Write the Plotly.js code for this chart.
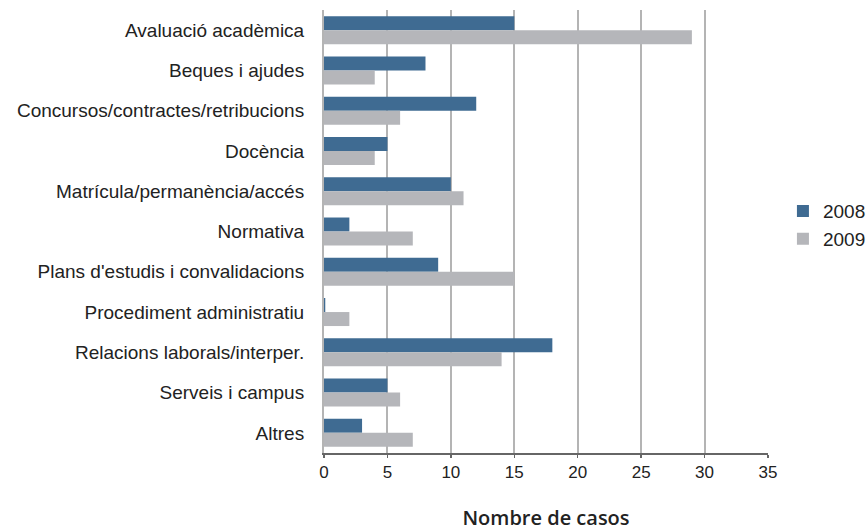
<!DOCTYPE html>
<html>
<head>
<meta charset="utf-8">
<script src="https://cdn.plot.ly/plotly-3.0.1.min.js"></script>
<style>html,body{margin:0;padding:0;background:#fff;}#chart{width:868px;height:531px;}</style>
</head>
<body>
<div id="chart"></div>
<script>
const categories = [
  "Avaluació acadèmica",
  "Beques i ajudes",
  "Concursos/contractes/retribucions",
  "Docència",
  "Matrícula/permanència/accés",
  "Normativa",
  "Plans d'estudis i convalidacions",
  "Procediment administratiu",
  "Relacions laborals/interper.",
  "Serveis i campus",
  "Altres"
];
const values2008 = [15, 8, 12, 5, 10, 2, 9, 0.1, 18, 5, 3];
const values2009 = [29, 4, 6, 4, 11, 7, 15, 2, 14, 6, 7];
const xTicks = [0, 5, 10, 15, 20, 25, 30, 35];

const traces = [
  {type: 'bar', orientation: 'h', name: '2008', y: categories, x: values2008,
   marker: {color: '#3f6b92'}},
  {type: 'bar', orientation: 'h', name: '2009', y: categories, x: values2009,
   marker: {color: '#b5b6ba'}}
];

const layout = {
  width: 868, height: 531,
  margin: {l: 324, r: 100, t: 10, b: 78},
  paper_bgcolor: '#fff', plot_bgcolor: '#fff',
  barmode: 'group', bargap: 0.305, bargroupgap: 0,
  font: {family: 'Liberation Sans, Arial, sans-serif', size: 19, color: '#222'},
  xaxis: {
    range: [0, 35], tickvals: xTicks, ticktext: xTicks.map(String),
    showgrid: true, gridcolor: '#b4b4b4', gridwidth: 2,
    zeroline: false, showline: true, linecolor: '#666', linewidth: 1.5,
    ticks: 'outside', ticklen: 3, tickcolor: '#666', tickwidth: 1.5,
    tickfont: {size: 17, color: '#222'},
    title: {text: 'Nombre de casos', font: {family: 'Open Sans, sans-serif', size: 20, color: '#222', weight: 600}, standoff: 30}
  },
  yaxis: {
    autorange: 'reversed', type: 'category',
    showline: true, linecolor: '#b4b4b4', linewidth: 2,
    showgrid: false, ticks: '', ticklabelstandoff: 14,
    tickfont: {size: 19, color: '#222'}
  },
  legend: {xref: 'container', yref: 'container', x: 0.902, y: 0.576, xanchor: 'left', yanchor: 'middle',
    font: {size: 19, color: '#222'}, itemwidth: 30, tracegroupgap: 0, borderwidth: 0,
    bgcolor: 'rgba(0,0,0,0)'},
  showlegend: true
};

Plotly.newPlot('chart', traces, layout, {displayModeBar: false, staticPlot: true});
</script>
</body>
</html>
